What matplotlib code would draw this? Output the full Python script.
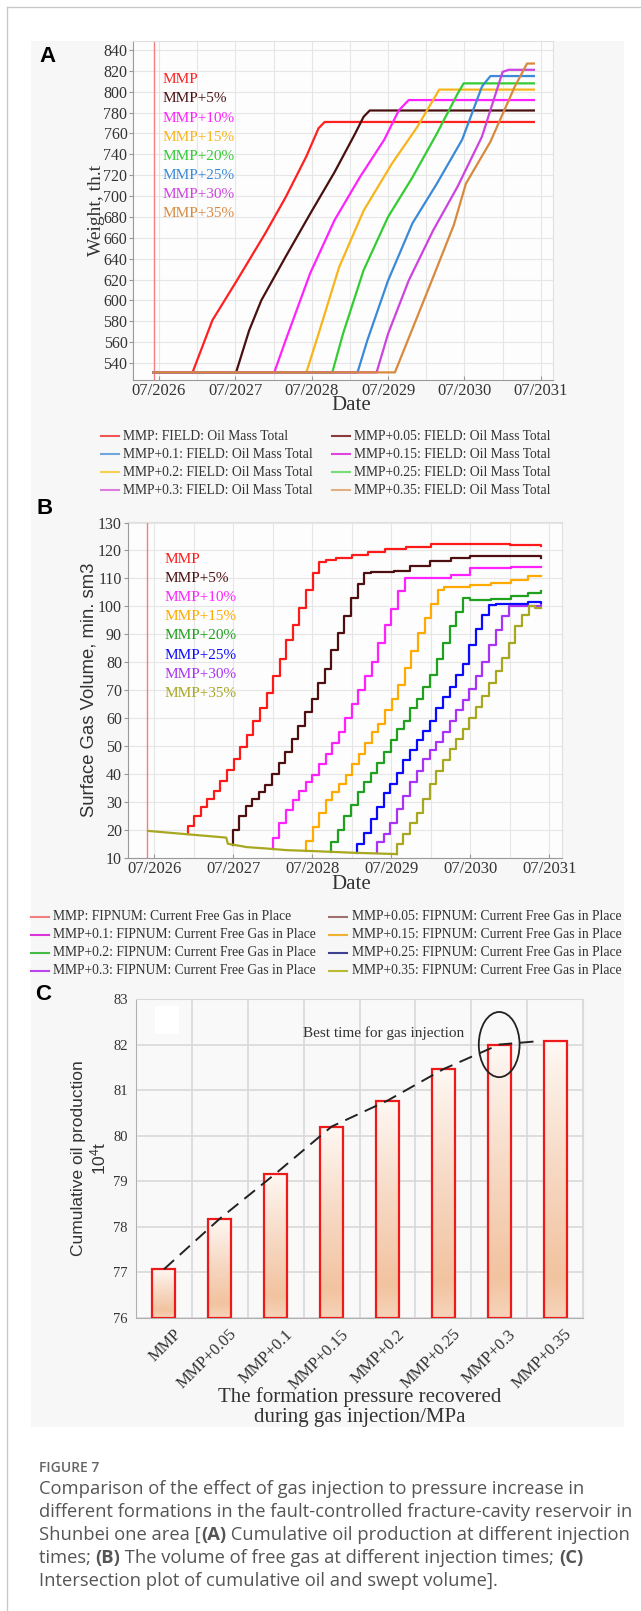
import numpy as np
import matplotlib
matplotlib.use('Agg')
import matplotlib.pyplot as plt
from matplotlib.patches import Rectangle, Ellipse
from matplotlib.lines import Line2D
from matplotlib.colors import LinearSegmentedColormap
import matplotlib.transforms as mtransforms

W, H = 641, 1611
SERIF = 'Liberation Serif'
SANS = 'Liberation Sans'
CAP = 'Open Sans'
plt.rcParams['font.family'] = [SERIF, 'DejaVu Sans']
plt.rcParams['mathtext.fontset'] = 'custom'
plt.rcParams['mathtext.rm'] = SANS
plt.rcParams['mathtext.it'] = SANS + ':italic'

# ---------------- panel A: FIELD oil mass total (th.t) ----------------
a_names = ['MMP', 'MMP+5%', 'MMP+10%', 'MMP+15%', 'MMP+20%', 'MMP+25%', 'MMP+30%', 'MMP+35%']
a_colors = ['#ff2020', '#4a1010', '#ff22ff', '#f7b51c', '#33cc33', '#3a8ad8', '#cc44dd', '#d8893e']
a_t0 = 2026.43      # simulation start (red marker line)
a_base = 531        # weight before injection
a_x = [
    [2026.94, 2027.20, 2027.52, 2027.89, 2028.16, 2028.43, 2028.59, 2028.67, 2031.41],
    [2027.51, 2027.68, 2027.84, 2028.16, 2028.48, 2028.80, 2029.07, 2029.18, 2029.26, 2031.41],
    [2028.01, 2028.16, 2028.48, 2028.80, 2029.13, 2029.45, 2029.64, 2029.77, 2031.41],
    [2028.43, 2028.59, 2028.86, 2029.18, 2029.55, 2029.88, 2030.09, 2030.17, 2031.41],
    [2028.77, 2028.91, 2029.18, 2029.50, 2029.82, 2030.14, 2030.41, 2030.49, 2031.41],
    [2029.10, 2029.23, 2029.50, 2029.82, 2030.14, 2030.47, 2030.73, 2030.84, 2031.41],
    [2029.35, 2029.50, 2029.77, 2030.09, 2030.41, 2030.73, 2031.00, 2031.08, 2031.41],
    [2029.59, 2030.04, 2030.36, 2030.52, 2030.84, 2031.16, 2031.32, 2031.41],
]
a_y = [
    [531, 581, 619, 664, 699, 738, 765, 771, 771],
    [531, 571, 600, 642, 683, 723, 760, 776, 782, 782],
    [531, 562, 626, 677, 718, 754, 782, 792, 792],
    [531, 568, 632, 686, 731, 766, 792, 802, 802],
    [531, 568, 629, 680, 718, 760, 798, 808, 808],
    [531, 562, 619, 674, 712, 754, 805, 815, 815],
    [531, 568, 619, 667, 709, 757, 819, 821, 821],
    [531, 613, 672, 712, 752, 805, 827, 827],
]
a_legend = ['MMP: FIELD: Oil Mass Total', 'MMP+0.05: FIELD: Oil Mass Total',
            'MMP+0.1: FIELD: Oil Mass Total', 'MMP+0.15: FIELD: Oil Mass Total',
            'MMP+0.2: FIELD: Oil Mass Total', 'MMP+0.25: FIELD: Oil Mass Total',
            'MMP+0.3: FIELD: Oil Mass Total', 'MMP+0.35: FIELD: Oil Mass Total']
a_legend_colors = ['#f25555', '#8b3a3a', '#6fa8dc', '#e044e0',
                   '#f7cf4f', '#77dd77', '#e07ce0', '#e0b080']

# ---------------- panel B: FIPNUM current free gas in place ----------------
b_names = a_names
b_colors = ['#ff1a1a', '#4d0f0f', '#ff22ff', '#ffaa00', '#1fa01f', '#0a0aff', '#a933f5', '#a8a820']
b_base_x = [2026.42, 2027.41, 2027.43, 2027.67, 2027.92, 2028.18, 2028.49, 2029.00, 2029.57]
b_base_y = [19.6, 17.2, 15.0, 13.8, 13.3, 12.7, 12.4, 11.8, 11.3]
b_start = [2026.92, 2027.49, 2028.00, 2028.42, 2028.74, 2029.07, 2029.32, 2029.57]
# monthly staircase after gas injection starts
b_steps = [
    [21.5, 25, 28, 31, 34, 37.5, 41.5, 45.5, 49.5, 54, 59, 63.5, 69, 75, 81, 88, 93.5, 99.5, 106, 112, 116],
    [20, 25, 28.5, 31, 33.5, 36, 40, 44, 48, 52.5, 57, 62, 67, 72.5, 77.5, 84.5, 90.5, 96.5, 103, 108, 112],
    [17, 22.5, 27, 30.5, 34, 37, 39.5, 43.5, 47, 51, 55, 60, 65, 70, 75, 80, 87, 93.5, 99, 105.5, 110],
    [16, 21, 26, 30.5, 33.5, 36.5, 39.5, 43.5, 47, 51, 55, 58, 63, 67, 72, 78, 84, 90.5, 96, 101, 106],
    [15.5, 20, 25, 29, 33.5, 37, 40.5, 44, 48, 52, 56, 59, 63.5, 67, 71, 75.5, 81, 87, 93, 98, 103],
    [15, 19, 24, 28, 33, 36.5, 40.5, 45, 48.5, 52, 55.5, 59, 63.5, 67.5, 71, 75.5, 79.5, 86, 92, 97, 100.5],
    [15.5, 18.5, 22.5, 27.5, 32, 37, 41, 45.5, 48.5, 51.5, 55, 59, 63, 66.5, 70.5, 75, 80, 86, 91.5, 96.5, 100],
    [15, 18.5, 22.5, 26, 31, 36.5, 41, 45, 49, 52.5, 56, 60, 64, 68, 72.5, 77, 81.5, 87, 93, 97, 100],
]
b_tail_x = [
    [2028.67, 2028.80, 2029.00, 2029.20, 2029.42, 2029.68, 2030.00, 2030.50, 2031.00, 2031.39],
    [2029.24, 2029.53, 2029.73, 2029.99, 2030.25, 2030.50, 2031.02, 2031.39],
    [2029.75, 2029.99, 2030.25, 2030.50, 2031.02, 2031.39],
    [2030.17, 2030.50, 2030.76, 2031.02, 2031.23, 2031.39],
    [2030.49, 2030.76, 2031.02, 2031.23, 2031.39],
    [2030.82, 2031.02, 2031.23, 2031.39],
    [2031.07, 2031.39],
    [2031.32, 2031.39],
]
b_tail_y = [
    [116.5, 117.3, 118.5, 119.3, 120.4, 121.3, 122.2, 122.2, 121.8, 121.5],
    [112.3, 112.6, 114.4, 116.2, 117.4, 118.2, 118.0, 117.4],
    [110.0, 110.2, 111.4, 113.6, 114.2, 114.0],
    [106.8, 107.8, 108.2, 109.6, 111.0, 110.8],
    [102.2, 102.6, 103.6, 104.8, 105.6],
    [100.8, 101.0, 101.6, 101.2],
    [100.2, 100.6],
    [99.5, 99.5],
]
b_t0 = 2026.41
b_legend = ['MMP: FIPNUM: Current Free Gas in Place', 'MMP+0.05: FIPNUM: Current Free Gas in Place',
            'MMP+0.1: FIPNUM: Current Free Gas in Place', 'MMP+0.15: FIPNUM: Current Free Gas in Place',
            'MMP+0.2: FIPNUM: Current Free Gas in Place', 'MMP+0.25: FIPNUM: Current Free Gas in Place',
            'MMP+0.3: FIPNUM: Current Free Gas in Place', 'MMP+0.35: FIPNUM: Current Free Gas in Place']
b_legend_colors = ['#f08080', '#a07070', '#dd33dd', '#f0b030',
                   '#44bb44', '#404090', '#bb44ee', '#bbbb33']

# shared date axis
date_ticks = [2026.5, 2027.5, 2028.5, 2029.5, 2030.5, 2031.5]
date_labels = ['07/2026', '07/2027', '07/2028', '07/2029', '07/2030', '07/2031']

# ---------------- panel C: cumulative oil production ----------------
c_cats = ['MMP', 'MMP+0.05', 'MMP+0.1', 'MMP+0.15', 'MMP+0.2', 'MMP+0.25', 'MMP+0.3', 'MMP+0.35']
c_vals = [77.07, 78.18, 79.17, 80.20, 80.77, 81.46, 82.00, 82.07]
c_best = 6

caption = [
    [('Comparison of the effect of gas injection to pressure increase in', 'normal')],
    [('different formations in the fault-controlled fracture-cavity reservoir in', 'normal')],
    [('Shunbei one area [', 'normal'), ('(A)', 'bold'), (' Cumulative oil production at different injection', 'normal')],
    [('times; ', 'normal'), ('(B)', 'bold'), (' The volume of free gas at different injection times; ', 'normal'), ('(C)', 'bold')],
    [('Intersection plot of cumulative oil and swept volume].', 'normal')],
]

fig = plt.figure(figsize=(W / 100, H / 100), dpi=100)
fig.patch.set_facecolor('white')


def axes_px(l, t, r, b):
    return fig.add_axes([l / W, 1 - b / H, (r - l) / W, (b - t) / H])


# page frame and light panel behind the three charts
fig.patches.append(Rectangle((31 / W, 1 - 1427 / H), 593 / W, 1386 / H, transform=fig.transFigure,
                             fc='#f7f7f7', ec='none', zorder=-5))
fig.lines.append(Line2D([6.5 / W, 6.5 / W], [0, 1 - 7 / H], transform=fig.transFigure, color='#c8c8c8', lw=1))
fig.lines.append(Line2D([6.5 / W, 1], [1 - 7 / H, 1 - 7 / H], transform=fig.transFigure, color='#c8c8c8', lw=1))


def date_axis(ax, ylo, yhi, ystep):
    ax.set_facecolor('#fdfdfd')
    ax.set_xlim(2026.16, 2031.66)
    ax.set_ylim(ylo, yhi)
    ax.set_xticks(date_ticks)
    ax.set_xticklabels(date_labels, fontsize=12)
    ax.set_xticks([t + 0.5 for t in date_ticks[:-1]], minor=True)
    ax.set_yticks(np.arange(np.ceil(ylo / ystep) * ystep, yhi, ystep))
    ax.grid(True, which='both', color='#e6e6e6', lw=0.8)
    ax.set_axisbelow(True)
    ax.tick_params(which='minor', length=0)
    ax.tick_params(which='major', length=3, width=0.8, color='#999999', pad=1, labelcolor='#333333')
    ax.tick_params(axis='x', direction='in', pad=2)
    ax.tick_params(axis='y', labelsize=11.5)
    for s in ['left', 'bottom']:
        ax.spines[s].set_color('#9a9a9a')
    for s in ['top', 'right']:
        ax.spines[s].set_color('#e0e0e0')


def fig_legend(labels, colors, rows_y, cols):
    for k, (lab, col) in enumerate(zip(labels, colors)):
        r, c = divmod(k, 2)
        x0, x1, xt = cols[c]
        y = 1 - rows_y[r] / H
        fig.lines.append(Line2D([x0 / W, x1 / W], [y, y], transform=fig.transFigure, color=col, lw=1.5))
        fig.text(xt / W, y, lab, fontsize=9.8, color='#333333', va='center', ha='left')


# ---- A ----
axa = axes_px(133, 41, 553, 380)
date_axis(axa, 523.7, 848.6, 20)
axa.axvline(a_t0, color='#f08080', lw=1)
for xs, ys, col in zip(a_x, a_y, a_colors):
    axa.plot([a_t0] + xs, [a_base] + ys, color=col, lw=1.6, solid_joinstyle='round')
for i, (nm, col) in enumerate(zip(a_names, a_colors)):
    axa.text(0.071, 0.886 - i * 0.0566, nm, color=col, fontsize=11, transform=axa.transAxes,
             va='center', ha='left')
axa.text(-0.088, 0.5, 'Weight, th.t', rotation=90, fontsize=14, color='#333333',
         transform=axa.transAxes, ha='center', va='center')
axa.text(0.519, -0.076, 'Date', fontsize=15, color='#333333', transform=axa.transAxes,
         ha='center', va='center')
fig_legend(a_legend, a_legend_colors, [436, 454, 472, 490], [(101, 119, 123), (332, 350, 354)])

# ---- B ----
axb = axes_px(127.5, 522, 562, 858)
date_axis(axb, 9.9, 130.2, 10)
axb.axvline(b_t0, color='#f08080', lw=1)
for k in range(len(b_names)):
    base_at = np.interp(b_start[k], b_base_x, b_base_y)
    xs = [b_start[k]] + [b_start[k] + m / 12 for m in range(len(b_steps[k]))] + b_tail_x[k]
    ys = [base_at] + b_steps[k] + b_tail_y[k]
    axb.plot(xs, ys, color=b_colors[k], lw=1.6, drawstyle='steps-post')
axb.plot(b_base_x, b_base_y, color=b_colors[-1], lw=1.6)
for i, (nm, col) in enumerate(zip(b_names, b_colors)):
    axb.text(0.086, 0.888 - i * 0.0568, nm, color=col, fontsize=11, transform=axb.transAxes,
             va='center', ha='left')
axb.text(-0.089, 0.5, 'Surface Gas Volume, min. sm3', rotation=90, fontsize=13.3, color='#333333',
         family=SANS, transform=axb.transAxes, ha='center', va='center')
axb.text(0.514, -0.08, 'Date', fontsize=15, color='#333333', transform=axb.transAxes,
         ha='center', va='center')
fig_legend(b_legend, b_legend_colors, [917, 935, 953, 971], [(31, 49, 53), (329, 347, 352)])

# ---- C ----
axc = axes_px(136, 999, 583, 1318)
axc.set_facecolor('#f9f9f9')
c_lo, c_hi = 76, 83
bw = 0.41
xs = np.arange(len(c_cats))
peach = LinearSegmentedColormap.from_list('peach', [(0, '#f6d4ba'), (0.15, '#f2c39f'),
                                                    (0.55, '#f7d9c4'), (1, '#fef8f4')])
grad = np.linspace(0, 1, 256).reshape(-1, 1)
for x, v in zip(xs, c_vals):
    axc.imshow(grad, cmap=peach, origin='lower', aspect='auto', zorder=2,
               extent=(x - bw / 2, x + bw / 2, c_lo, v))
    axc.add_patch(Rectangle((x - bw / 2, c_lo), bw, v - c_lo, fill=False, ec='#ee1a1a', lw=1.6, zorder=3))
trend_x = list(xs[:-1]) + [xs[-1] - bw / 2 - 0.14]
axc.plot(trend_x, c_vals, color='#222222', lw=1.4, dashes=(7, 4), zorder=4)
axc.add_patch(Ellipse((xs[c_best], c_vals[c_best]), 0.73, 1.43, fill=False, ec='#222222', lw=1.3, zorder=5))
axc.text(3.94, 82.25, 'Best time for gas injection', fontsize=11, color='#333333', ha='center', va='center',
         zorder=5)
axc.add_patch(Rectangle((-0.16, 82.23), 0.43, 0.62, fc='white', ec='none', zorder=1))
axc.set_xlim(-0.5, len(c_cats) - 0.5)
axc.set_ylim(c_lo, c_hi)
axc.set_yticks(np.arange(c_lo, c_hi + 1))
axc.set_xticks(xs)
axc.set_xticks(np.arange(-0.5, len(c_cats), 1), minor=True)
axc.grid(True, which='major', axis='y', color='#d9d9d9', lw=1.2)
axc.grid(True, which='minor', axis='x', color='#d9d9d9', lw=1.2)
axc.set_axisbelow(True)
axc.tick_params(which='both', length=0, labelsize=10.5, labelcolor='#333333', pad=6)
axc.set_xticklabels(c_cats, rotation=45, ha='right', va='top', rotation_mode='anchor', fontsize=12)
shift = mtransforms.ScaledTranslation(9 / 100, 0, fig.dpi_scale_trans)
for lab in axc.get_xticklabels():
    lab.set_transform(lab.get_transform() + shift)
for s in ['left', 'bottom']:
    axc.spines[s].set_color('#b0b0b0')
for s in ['top', 'right']:
    axc.spines[s].set_color('#d9d9d9')
axc.text(-0.128, 0.5, 'Cumulative oil production', rotation=90, fontsize=12.5, color='#333333',
         family=[SANS, 'DejaVu Sans'], transform=axc.transAxes, ha='center', va='center')
axc.text(-0.083, 0.5, r'10$^{\mathrm{4}}$t', rotation=90, fontsize=12.5, color='#333333',
         family=[SANS, 'DejaVu Sans'], transform=axc.transAxes, ha='center', va='center')
axc.text(0.501, -0.248, 'The formation pressure recovered', fontsize=15, color='#333333',
         transform=axc.transAxes, ha='center', va='center')
axc.text(0.501, -0.313, 'during gas injection/MPa', fontsize=15, color='#333333',
         transform=axc.transAxes, ha='center', va='center')

# panel letters
for lab, (x, y) in zip(['A', 'B', 'C'], [(47, 57), (45, 508), (43, 995)]):
    fig.text(x / W, 1 - y / H, lab, fontsize=16, fontweight='bold', family=SANS, ha='center', va='center')

# caption
renderer = fig.canvas.get_renderer()


def text_width(s, weight, size):
    t = fig.text(0, 0, s + '|', fontsize=size, fontweight=weight, family=CAP)
    t2 = fig.text(0, 0, '|', fontsize=size, fontweight=weight, family=CAP)
    w = t.get_window_extent(renderer).width - t2.get_window_extent(renderer).width
    t.remove()
    t2.remove()
    return w


fig.text(39 / W, 1 - 1468 / H, 'FIGURE 7', fontsize=10, fontweight='semibold', family=CAP,
         color='#666666', ha='left', va='center')
cap_size = 13.2
for i, parts in enumerate(caption):
    x = 39
    y = 1 - (1489 + i * 23) / H
    for s, wt in parts:
        fig.text(x / W, y, s, fontsize=cap_size, fontweight=wt, family=CAP, color='#555555',
                 ha='left', va='center')
        x += text_width(s, wt, cap_size)

fig.savefig('out.png', dpi=100)
